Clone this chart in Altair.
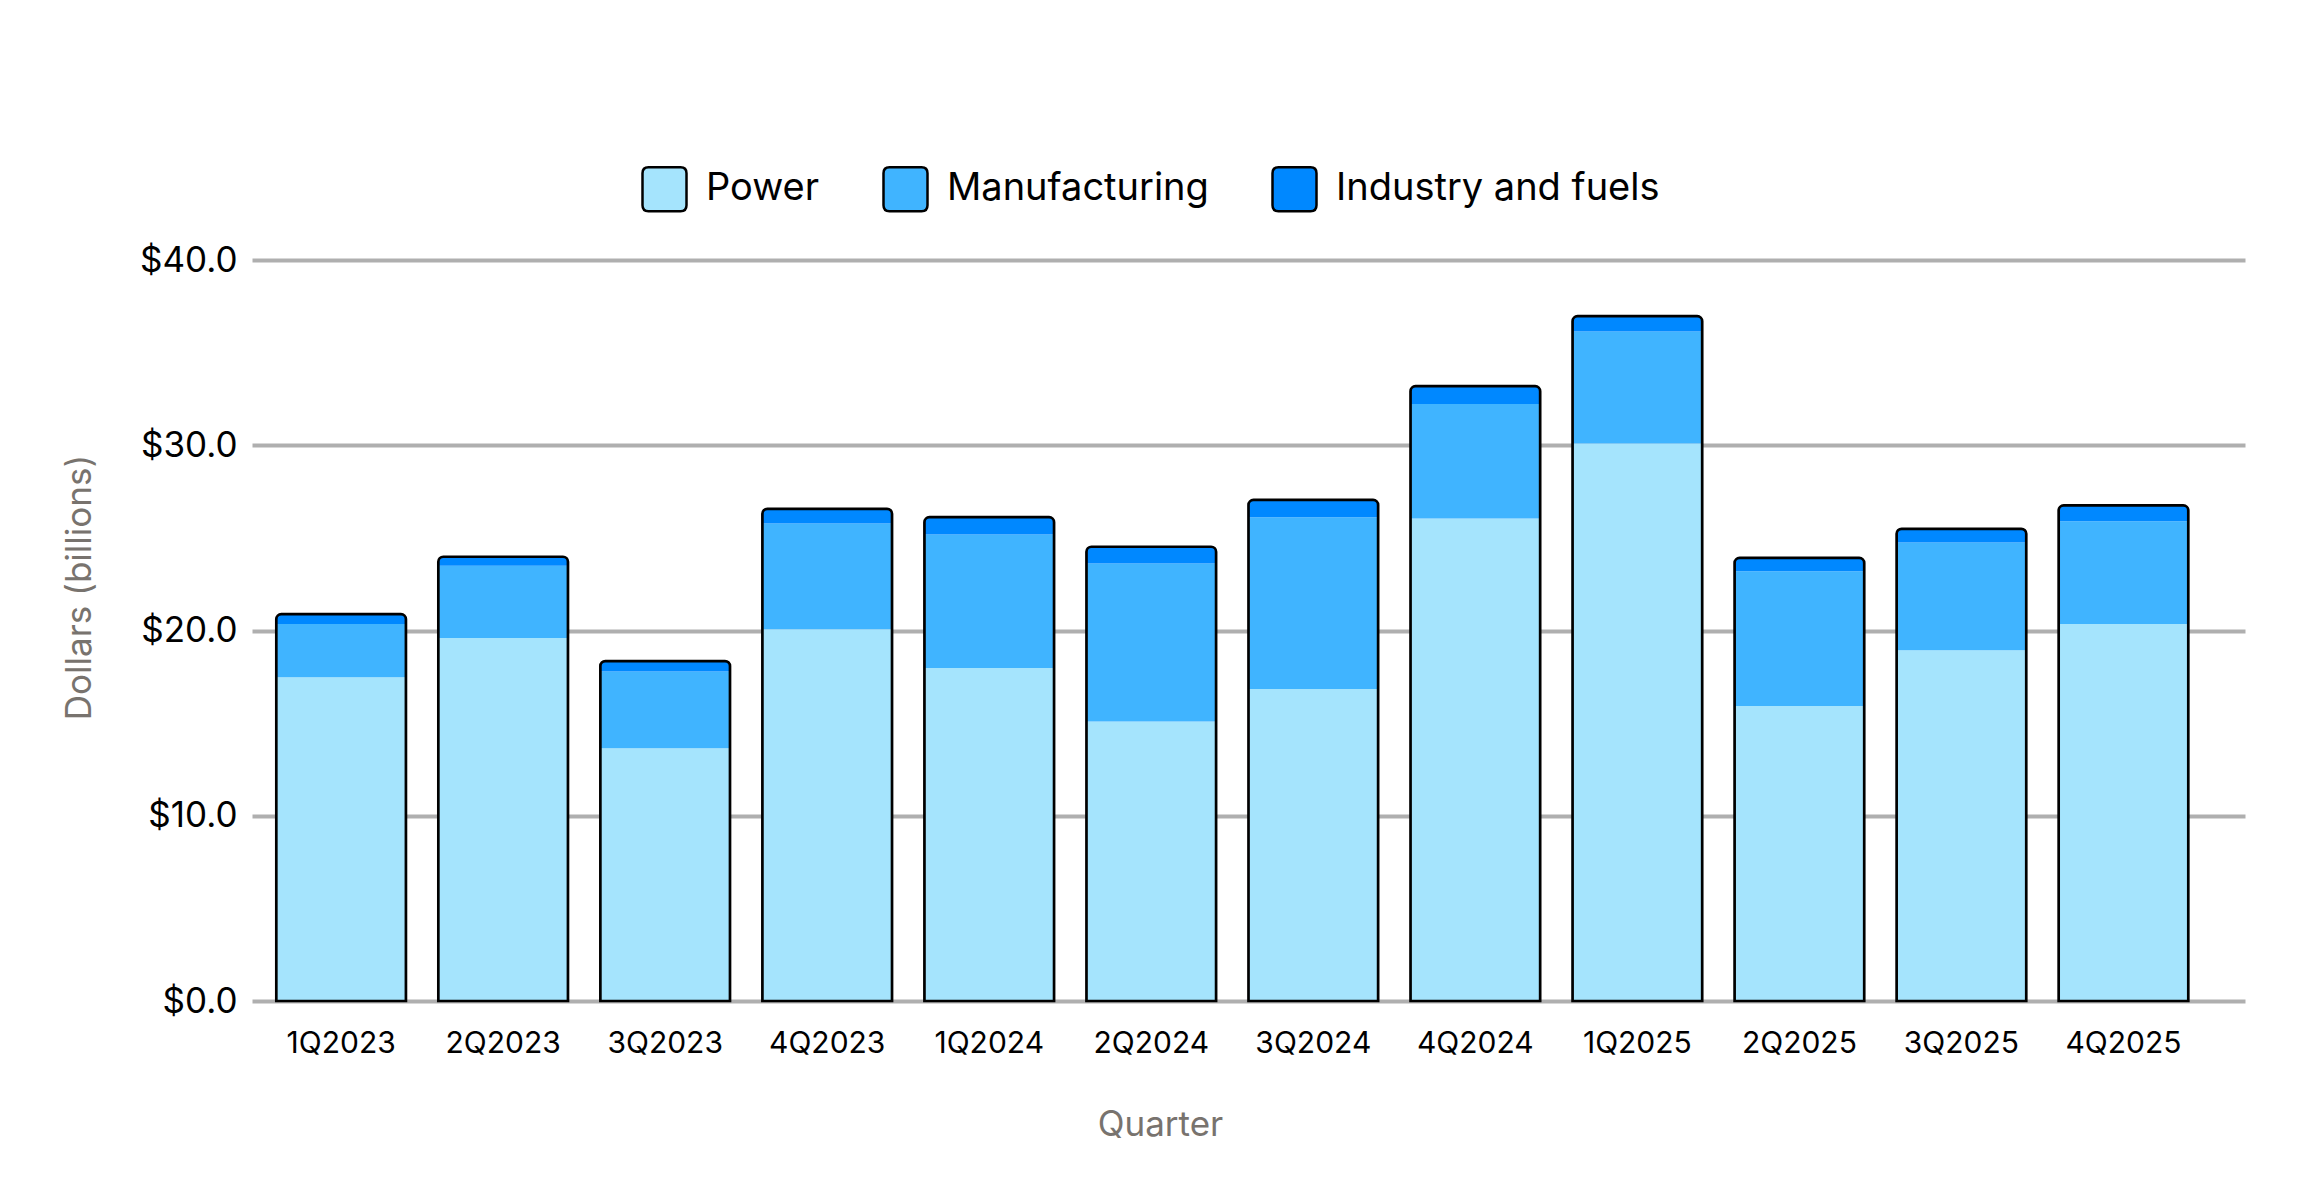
import altair as alt
import pandas as pd

quarters = ["1Q2023", "2Q2023", "3Q2023", "4Q2023", "1Q2024", "2Q2024",
            "3Q2024", "4Q2024", "1Q2025", "2Q2025", "3Q2025", "4Q2025"]
power = [17.48, 19.59, 13.65, 20.07, 17.97, 15.09, 16.84, 26.05, 30.09, 15.92, 18.94, 20.35]
manufacturing = [2.87, 3.91, 4.14, 5.71, 7.21, 8.53, 9.28, 6.17, 6.05, 7.28, 5.81, 5.55]
industry = [0.53, 0.48, 0.56, 0.79, 0.94, 0.90, 0.93, 0.97, 0.83, 0.72, 0.74, 0.85]

series = ["Power", "Manufacturing", "Industry and fuels"]
colors = ["#a5e4fd", "#40b4ff", "#0088ff"]
y_ticks = [0, 10, 20, 30, 40]

df = pd.DataFrame({"quarter": quarters, "power": power,
                   "manufacturing": manufacturing, "industry": industry})

FONT = "Inter"
GREY = "#78736e"

x_enc = alt.X("quarter:N", sort=quarters,
              scale=alt.Scale(paddingInner=0.2, paddingOuter=0.25, align=0.3),
              axis=alt.Axis(title="Quarter", labelAngle=0, ticks=False, tickSize=0,
                            domain=False, grid=False, labelPadding=27,
                            labelFontSize=30, labelColor="#000000", labelFont=FONT,
                            titleFont=FONT, titleFontSize=35, titleColor=GREY,
                            titleFontWeight="normal", titleX=908, titleY=123,
                            titleBaseline="middle", titleAlign="center",
                            labelOverlap=False))

y_scale = alt.Scale(domain=[0, 40], nice=False)
y_axis = alt.Axis(title="Dollars (billions)", values=y_ticks, format="$.1f",
                  ticks=False, tickSize=0, domain=False, grid=True,
                  gridColor="#afafaf", gridWidth=4, labelPadding=15,
                  labelFontSize=35, labelColor="#000000", labelFont=FONT,
                  titleFont=FONT, titleFontSize=35, titleColor=GREY,
                  titleFontWeight="normal", titleX=-173, titleY=327,
                  titleAngle=270, titleBaseline="middle", titleAlign="center")

rounded = "M-0.73,-1H0.73Q1,-1,1,-0.73V0.73Q1,1,0.73,1H-0.73Q-1,1,-1,0.73V-0.73Q-1,-1,-0.73,-1Z"

color_enc = alt.Color(
    "series:N",
    scale=alt.Scale(domain=series, range=colors),
    legend=alt.Legend(title=None, orient="none", direction="horizontal",
                      legendX=389, legendY=-94.5, padding=0,
                      symbolType=rounded, symbolSize=1936,
                      symbolStrokeColor="#000000", symbolStrokeWidth=2.5,
                      symbolOpacity=1, labelFont=FONT, labelFontSize=38,
                      labelColor="#000000", labelOffset=18, labelLimit=1000,
                      columnPadding=58, columns=3),
)

base = alt.Chart(df).transform_calculate(
    pm="datum.power + datum.manufacturing",
    total="datum.power + datum.manufacturing + datum.industry",
)

l_power = base.transform_calculate(series="'Power'").mark_bar().encode(
    x=x_enc,
    y=alt.Y("power:Q", scale=y_scale, stack=None, axis=y_axis),
    color=color_enc,
)

l_manu = base.transform_calculate(series="'Manufacturing'").mark_bar().encode(
    x=x_enc,
    y=alt.Y("pm:Q", scale=y_scale, stack=None, axis=y_axis),
    y2="power:Q",
    color=color_enc,
)

l_ind = base.transform_calculate(series="'Industry and fuels'").mark_bar(
    cornerRadiusTopLeft=5, cornerRadiusTopRight=5).encode(
    x=x_enc,
    y=alt.Y("total:Q", scale=y_scale, stack=None, axis=y_axis),
    y2="pm:Q",
    color=color_enc,
)

l_outline = base.mark_bar(fill="transparent", stroke="#000000", strokeWidth=2.7,
                          cornerRadiusTopLeft=5, cornerRadiusTopRight=5).encode(
    x=x_enc,
    y=alt.Y("total:Q", scale=y_scale, stack=None, axis=y_axis),
)

chart = alt.layer(l_power, l_manu, l_ind, l_outline).properties(
    width=1993, height=741,
    autosize=alt.AutoSizeParams(type="none"),
    padding={"left": 244, "top": 252, "right": 67, "bottom": 191},
    background="#ffffff",
).configure_view(stroke=None)

chart.save("out.html", embed_options={"renderer": "svg", "actions": False})
